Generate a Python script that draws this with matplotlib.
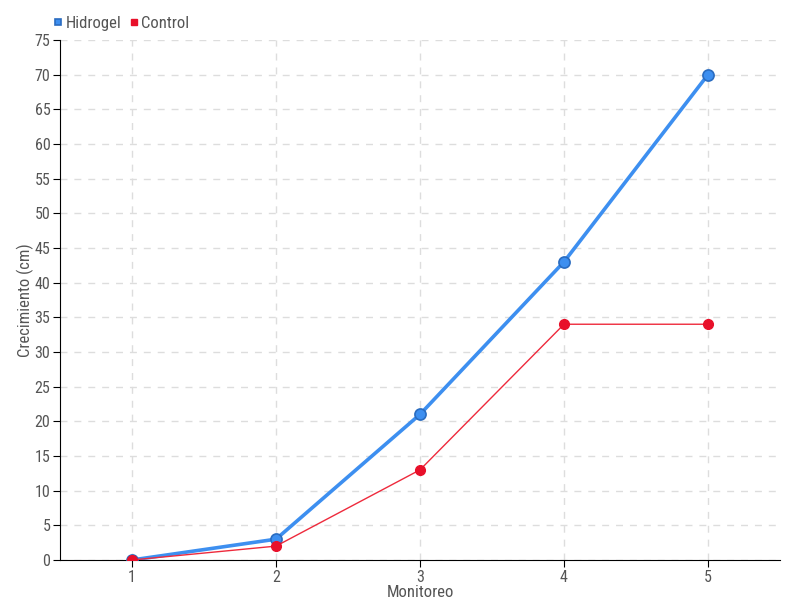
import numpy as np
import matplotlib.pyplot as plt

monitoreo = [1, 2, 3, 4, 5]
hidrogel = [0, 3, 21, 43, 70]
control = [0, 2, 13, 34, 34]

plt.rcParams['font.family'] = ['Roboto Condensed', 'Liberation Sans Narrow', 'DejaVu Sans']
gris = '#555555'

fig = plt.figure(figsize=(8, 6), dpi=100)
ax = fig.add_axes([0.075, 0.0667, 0.9, 0.8667])

ax.plot(monitoreo, hidrogel, color='#3d8ff0', lw=2.6, marker='o', ms=8,
        mfc='#3d8ff0', mec='#2a6cc0', mew=1.2, label='Hidrogel', zorder=3)
ax.plot(monitoreo, control, color='#ee2a3c', lw=1, marker='o', ms=7,
        mfc='#e8102a', mec='#e8102a', label='Control', zorder=4)

ax.set_xlim(0.5, 5.5)
ax.set_ylim(0, 75)
ax.set_xticks(monitoreo)
ax.set_yticks(np.arange(0, 76, 5))
ax.grid(True, color='#dddddd', linestyle=(0, (5, 5)), lw=1)
ax.set_axisbelow(True)

for s in ['top', 'right']:
    ax.spines[s].set_visible(False)
ax.spines['left'].set_color('black')
ax.spines['bottom'].set_color('black')
ax.tick_params(colors='black', labelcolor=gris, labelsize=11.5, length=5, pad=2)

ax.set_xlabel('Monitoreo', color=gris, fontsize=12, labelpad=0)
ax.set_ylabel('Crecimiento (cm)', color=gris, fontsize=12)
ax.yaxis.set_label_coords(-0.036, 0.5)

leg = ax.legend(loc='lower left', bbox_to_anchor=(-0.025, 0.995), ncol=2, frameon=False,
                handlelength=0.5, handletextpad=0.2, columnspacing=0.5,
                fontsize=12, borderaxespad=0.3)
for h in leg.legend_handles:
    h.set_linestyle('none')
    h.set_marker('s')
    h.set_markersize(5)
for t in leg.get_texts():
    t.set_color(gris)

fig.savefig('out.png', dpi=100)
